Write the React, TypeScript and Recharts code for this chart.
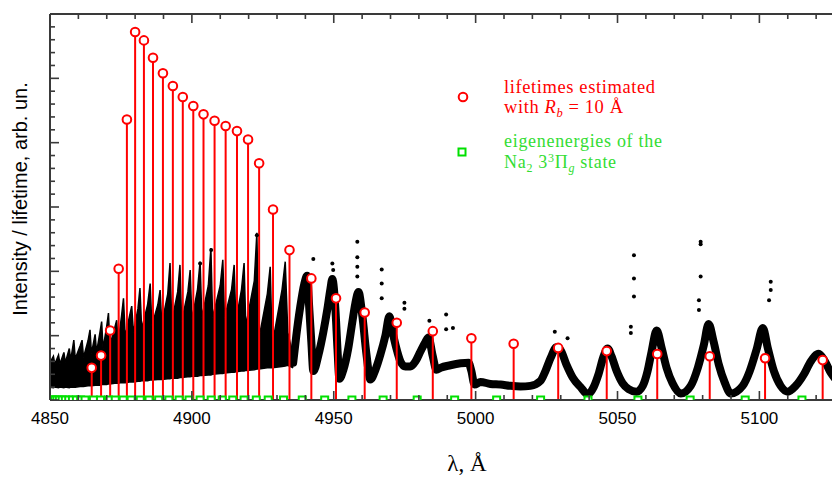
import React from 'react';
import { ComposedChart, XAxis, YAxis, Area, Line, Scatter, ErrorBar } from 'recharts';

// ---------- data ----------
// lifetime stems: wavelength (Å) and value (arb. un.)
const stemX = [4864.7, 4868.0, 4871.2, 4874.2, 4877.1, 4880.0, 4883.1, 4886.3, 4889.8, 4893.3, 4896.8, 4900.5, 4904.1, 4908.0, 4911.9, 4915.9, 4919.8, 4923.7, 4928.6, 4934.4, 4942.1, 4950.8, 4960.9, 4972.2, 4984.9, 4998.5, 5013.4, 5029.1, 5046.2, 5064.0, 5082.5, 5102.0, 5122.3];
const stemY = [0.50, 0.69, 1.08, 2.04, 4.36, 5.72, 5.59, 5.32, 5.08, 4.88, 4.71, 4.57, 4.44, 4.34, 4.26, 4.18, 4.05, 3.68, 2.96, 2.33, 1.89, 1.58, 1.36, 1.20, 1.07, 0.96, 0.875, 0.81, 0.76, 0.715, 0.68, 0.65, 0.62];

// eigenenergies of the Na2 3^3Pi_g state (wavelength positions)
const levelX = [4850.3, 4850.9, 4851.6, 4852.4, 4853.3, 4854.3, 4855.4, 4856.6, 4857.9, 4859.3, 4860.8, 4862.35, 4865.3, 4867.8, 4870.6, 4873.0, 4875.8, 4878.6, 4881.8, 4884.9, 4888.3, 4891.9, 4895.5, 4899.0, 4902.9, 4906.8, 4910.7, 4914.4, 4918.4, 4922.7, 4926.9, 4932.3, 4938.9, 4946.8, 4956.4, 4967.4, 4979.4, 4992.6, 5007.4, 5022.9, 5039.6, 5057.2, 5075.6, 5095.0, 5115.0];

// dense part of the measured spectrum: wavelength, lower and upper envelope
const denseX = [4850.0, 4851.2, 4851.7, 4853.0, 4853.5, 4854.9, 4855.4, 4856.8, 4857.3, 4858.4, 4858.9, 4860.6, 4861.3, 4861.8, 4863.4, 4864.1, 4864.6, 4865.9, 4866.4, 4867.6, 4868.2, 4868.7, 4870.0, 4870.6, 4871.1, 4872.8, 4873.5, 4874.0, 4875.2, 4875.9, 4876.5, 4878.0, 4878.8, 4879.4, 4881.0, 4881.7, 4882.3, 4884.4, 4885.3, 4885.9, 4888.0, 4888.8, 4889.4, 4891.5, 4892.3, 4892.9, 4895.0, 4895.8, 4896.4, 4898.6, 4899.4, 4900.0, 4902.0, 4902.9, 4903.5, 4905.8, 4906.7, 4907.3, 4910.0, 4910.9, 4911.5, 4914.0, 4914.9, 4915.5, 4917.5, 4918.4, 4919.0, 4922.0, 4922.9, 4923.6, 4926.6, 4927.6, 4928.3, 4931.8, 4932.9, 4933.8, 4935.7];
const denseLow = [0.20, 0.19, 0.20, 0.19, 0.20, 0.19, 0.20, 0.19, 0.20, 0.20, 0.20, 0.21, 0.21, 0.21, 0.22, 0.22, 0.22, 0.23, 0.23, 0.23, 0.24, 0.24, 0.24, 0.25, 0.25, 0.26, 0.26, 0.26, 0.27, 0.27, 0.27, 0.28, 0.28, 0.28, 0.29, 0.29, 0.30, 0.30, 0.31, 0.31, 0.32, 0.32, 0.32, 0.33, 0.33, 0.34, 0.34, 0.35, 0.35, 0.36, 0.36, 0.37, 0.37, 0.38, 0.38, 0.39, 0.39, 0.40, 0.41, 0.41, 0.42, 0.43, 0.43, 0.44, 0.45, 0.45, 0.46, 0.47, 0.48, 0.48, 0.50, 0.50, 0.50, 0.52, 0.53, 0.54, 0.50];
const denseHigh = [0.58, 0.68, 0.56, 0.70, 0.56, 0.74, 0.58, 0.80, 0.62, 0.93, 0.64, 0.84, 0.93, 0.66, 0.92, 1.09, 0.72, 1.02, 0.74, 1.05, 1.22, 0.80, 1.15, 1.35, 0.85, 1.12, 1.24, 0.90, 1.30, 1.58, 0.98, 1.30, 1.46, 1.05, 1.42, 1.74, 1.10, 1.48, 1.81, 1.15, 1.48, 1.71, 1.18, 1.65, 2.13, 1.22, 1.68, 2.10, 1.22, 1.68, 2.02, 1.25, 1.72, 2.15, 1.28, 1.78, 2.36, 1.28, 1.78, 2.18, 1.28, 1.72, 2.10, 1.22, 1.72, 2.13, 1.15, 1.85, 2.60, 0.95, 1.65, 2.07, 0.85, 1.72, 2.15, 1.05, 0.68];

// resolved part of the spectrum (band centre line)
const bandX = [4935.7, 4936.8, 4938.2, 4939.6, 4940.6, 4941.4, 4942.1, 4942.8, 4944.6, 4946.3, 4947.7, 4948.8, 4949.5, 4950.6, 4951.3, 4952.0, 4953.4, 4955.1, 4956.5, 4957.6, 4958.7, 4960.1, 4961.5, 4962.9, 4964.7, 4966.4, 4968.2, 4969.6, 4971.0, 4972.4, 4973.5, 4975.2, 4977.0, 4978.8, 4980.5, 4982.3, 4983.4, 4984.8, 4986.2, 4987.6, 4991.1, 4994.7, 4997.5, 4998.5, 4999.6, 5001.7, 5005.2, 5008.8, 5012.3, 5015.8, 5019.3, 5022.9, 5024.6, 5026.4, 5028.5, 5029.9, 5032.0, 5034.2, 5037.0, 5039.5, 5041.6, 5043.3, 5045.1, 5046.5, 5047.9, 5049.7, 5051.8, 5053.9, 5056.7, 5058.9, 5060.6, 5062.0, 5063.8, 5065.6, 5067.3, 5069.4, 5072.3, 5075.8, 5078.3, 5080.4, 5082.1, 5083.9, 5085.7, 5087.8, 5089.9, 5094.1, 5096.6, 5099.1, 5101.2, 5103.0, 5105.1, 5107.5, 5110.0, 5112.8, 5115.7, 5118.1, 5120.9, 5123.1, 5125.2, 5127.3];
const bandY = [0.58, 1.00, 1.45, 1.80, 1.93, 1.40, 0.90, 0.45, 0.70, 1.05, 1.40, 1.72, 1.88, 1.40, 0.80, 0.33, 0.47, 0.80, 1.20, 1.50, 1.68, 1.30, 0.72, 0.32, 0.47, 0.70, 1.00, 1.30, 1.00, 0.75, 0.60, 0.52, 0.52, 0.60, 0.75, 0.90, 0.97, 0.70, 0.47, 0.50, 0.54, 0.57, 0.58, 0.45, 0.24, 0.28, 0.25, 0.24, 0.22, 0.21, 0.22, 0.30, 0.45, 0.65, 0.82, 0.78, 0.55, 0.35, 0.20, 0.09, 0.20, 0.40, 0.68, 0.80, 0.68, 0.45, 0.26, 0.17, 0.13, 0.22, 0.45, 0.75, 1.08, 0.80, 0.50, 0.26, 0.10, 0.22, 0.50, 0.85, 1.18, 0.90, 0.55, 0.27, 0.10, 0.22, 0.45, 0.80, 1.12, 0.80, 0.45, 0.22, 0.13, 0.22, 0.40, 0.60, 0.72, 0.60, 0.42, 0.30];

// isolated spectral points above the bands
const spikeX = [4906.8, 4902.9, 4922.9, 4942.8, 4949.5, 4949.8, 4958.3, 4958.3, 4958.3, 4958.3, 4966.9, 4966.9, 4966.9, 4974.9, 4974.9, 4983.7, 4989.6, 4989.6, 4992.0, 5027.9, 5032.4, 5055.8, 5055.8, 5055.8, 5054.7, 5054.7, 5079.3, 5079.3, 5079.3, 5078.7, 5078.7, 5104.0, 5104.0, 5103.4];
const spikeY = [2.33, 2.12, 2.56, 2.19, 2.12, 2.02, 2.46, 2.22, 2.07, 1.92, 2.03, 1.81, 1.58, 1.51, 1.42, 1.23, 1.33, 1.10, 1.12, 1.06, 0.96, 2.25, 1.89, 1.61, 1.14, 1.04, 2.46, 2.42, 1.92, 1.55, 1.40, 1.84, 1.71, 1.55];

const xTicks = [4850, 4860, 4870, 4880, 4890, 4900, 4910, 4920, 4930, 4940, 4950, 4960, 4970, 4980, 4990, 5000, 5010, 5020, 5030, 5040, 5050, 5060, 5070, 5080, 5090, 5100, 5110, 5120];
const xLabels = [4850, 4900, 4950, 5000, 5050, 5100];
const yTicks = [0, 0.2, 0.4, 0.6, 0.8, 1, 1.2, 1.4, 1.6, 1.8, 2, 2.2, 2.4, 2.6, 2.8, 3, 3.2, 3.4, 3.6, 3.8, 4, 4.2, 4.4, 4.6, 4.8, 5, 5.2, 5.4, 5.6, 5.8, 6];
const yMajor = [0, 1, 2, 3, 4, 5, 6];

// ---------- tables for the library ----------
const stems = stemX.map((x, i) => ({ x, y: stemY[i], err: [stemY[i], 0] }));
const levels = levelX.map((x) => ({ x, y: 0 }));
const dense = denseX.map((x, i) => ({ x, r: [denseLow[i], denseHigh[i]] }));
const band = bandX.map((x, i) => ({ x, y: bandY[i] }));
const spikes = spikeX.map((x, i) => ({ x, y: spikeY[i] }));

const AXIS = '#3a3a3a';
const RED = '#ff0000';
const GREEN = '#00e000';
const SANS = '"Liberation Sans", Arial, sans-serif';
const SERIF = '"Liberation Serif", "Times New Roman", serif';

const BottomTick = (p: any) => {
  const major = xLabels.includes(p.payload.value);
  return (
    <g>
      <line x1={p.x} x2={p.x} y1={p.y} y2={p.y - (major ? 9 : 5)} stroke={AXIS} strokeWidth={1.6} />
      {major && (
        <text x={p.x} y={p.y + 24} textAnchor="middle" fontFamily={SANS} fontSize={17} fill="#000">
          {p.payload.value}
        </text>
      )}
    </g>
  );
};
const TopTick = (p: any) => {
  const major = xLabels.includes(p.payload.value);
  return <line x1={p.x} x2={p.x} y1={p.y} y2={p.y + (major ? 9 : 5)} stroke={AXIS} strokeWidth={1.6} />;
};
const LeftTick = (p: any) => {
  const major = yMajor.includes(p.payload.value);
  return <line x1={p.x} x2={p.x + (major ? 9 : 5)} y1={p.y} y2={p.y} stroke={AXIS} strokeWidth={1.6} />;
};

const Empty = () => <g />;
const Circle = (p: any) => <circle cx={p.cx} cy={p.cy} r={4.3} fill="#fff" stroke={RED} strokeWidth={2} />;
const Square = (p: any) => <rect x={p.cx - 3.5} y={p.cy - 3.5} width={7} height={7} fill="#fff" stroke={GREEN} strokeWidth={2} />;
const Dot = (p: any) => <circle cx={p.cx} cy={p.cy} r={2} fill="#000" />;

export default function App() {
  return (
    <div style={{ position: 'absolute', left: 0, top: 0, width: 832, height: 477, overflow: 'hidden', background: '#fff' }}>
      <ComposedChart width={840} height={477} margin={{ top: 13, right: 4, bottom: 47, left: 49 }}>
        <XAxis xAxisId={0} dataKey="x" type="number" domain={[4850, 5127]} allowDataOverflow ticks={xTicks} interval={0}
          orientation="bottom" height={30} tickSize={0} tickMargin={0} tickLine={false}
          axisLine={{ stroke: AXIS, strokeWidth: 2 }} tick={BottomTick} />
        <XAxis xAxisId="top" dataKey="x" type="number" domain={[4850, 5127]} allowDataOverflow ticks={xTicks} interval={0}
          orientation="top" height={1} tickSize={0} tickMargin={0} tickLine={false}
          axisLine={{ stroke: AXIS, strokeWidth: 2 }} tick={TopTick} />
        <YAxis yAxisId={0} type="number" domain={[0, 6]} allowDataOverflow ticks={yTicks} interval={0}
          orientation="left" width={1} tickSize={0} tickMargin={0} tickLine={false}
          axisLine={{ stroke: AXIS, strokeWidth: 2 }} tick={LeftTick} />

        <Area data={dense} dataKey="r" type="linear" stroke="#000" strokeWidth={1.5} fill="#000" fillOpacity={1} isAnimationActive={false} />
        <Line data={band} dataKey="y" type="monotone" stroke="#000" strokeWidth={8} strokeLinejoin="round" strokeLinecap="round" dot={false} isAnimationActive={false} />
        <Scatter data={spikes} dataKey="y" shape={Dot} isAnimationActive={false} />
        <Scatter data={stems} dataKey="y" shape={Empty} isAnimationActive={false}>
          <ErrorBar dataKey="err" direction="y" width={0} stroke={RED} strokeWidth={2} isAnimationActive={false} />
        </Scatter>
        <Scatter data={stems} dataKey="y" shape={Circle} isAnimationActive={false} />
        <Scatter data={levels} dataKey="y" shape={Square} isAnimationActive={false} />
      </ComposedChart>

      <svg width={832} height={477} style={{ position: 'absolute', left: 0, top: 0, pointerEvents: 'none' }}>
        <text transform="translate(27,199) rotate(-90)" textAnchor="middle" fontFamily={SANS} fontSize={20} fill="#000">
          Intensity / lifetime, arb. un.
        </text>
        <text x={467} y={471} textAnchor="middle" fontFamily={SERIF} fontSize={23} fill="#000">λ, Å</text>

        <circle cx={463} cy={97} r={4.3} fill="#fff" stroke={RED} strokeWidth={2} />
        <text x={504} y={93} fontFamily={SERIF} fontSize={18.5} letterSpacing={0.6} fill={RED}>lifetimes estimated</text>
        <text x={504} y={113} fontFamily={SERIF} fontSize={18.5} letterSpacing={0.6} fill={RED}>
          with <tspan fontStyle="italic">R</tspan><tspan fontSize={12.5} dy={4} fontStyle="italic">b</tspan><tspan dy={-4}> = 10 Å</tspan>
        </text>

        <rect x={458.5} y={148.5} width={7} height={7} fill="#fff" stroke={GREEN} strokeWidth={2} />
        <text x={504} y={147} fontFamily={SERIF} fontSize={18} letterSpacing={0.7} fill="#33dd33">eigenenergies of the</text>
        <text x={504} y={168} fontFamily={SERIF} fontSize={18} letterSpacing={0.7} fill="#33dd33">
          Na<tspan fontSize={12} dy={4}>2</tspan><tspan dy={-4}> 3</tspan><tspan fontSize={12} dy={-6}>3</tspan><tspan dy={6}>Π</tspan><tspan fontSize={12} dy={4} fontStyle="italic">g</tspan><tspan dy={-4}> state</tspan>
        </text>
      </svg>
    </div>
  );
}
